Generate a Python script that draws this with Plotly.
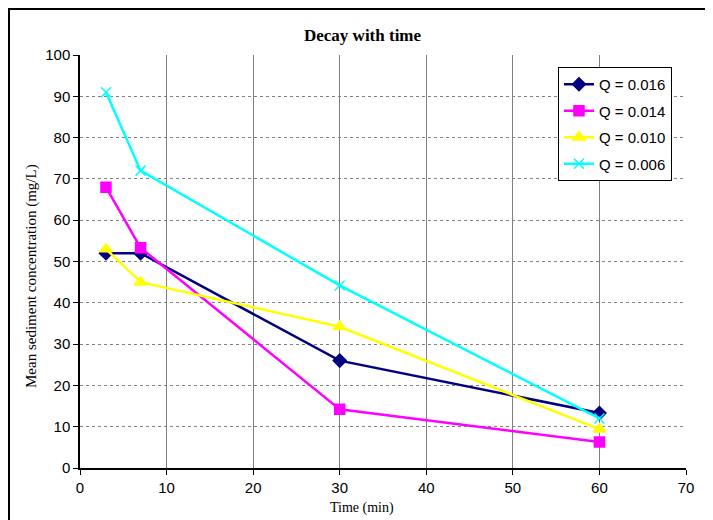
import plotly.graph_objects as go

time_min = [3, 7, 30, 60]
q016 = [52, 52, 26, 13.3]
q014 = [68, 53.3, 14.2, 6.3]
q010 = [53, 45, 34.2, 9.4]
q006 = [91, 72, 44.2, 12]

series = [
    ("Q = 0.016", q016, "#000080", "diamond", 10),
    ("Q = 0.014", q014, "#FF00FF", "square", 10),
    ("Q = 0.010", q010, "#FFFF00", "triangle-up", 11),
    ("Q = 0.006", q006, "#00FFFF", "x-thin", 10),
]

fig = go.Figure()
for i, (name, vals, col, sym, sz) in enumerate(series):
    fig.add_trace(go.Scatter(
        x=time_min, y=vals, name=name, mode="lines+markers",
        line=dict(color=col, width=2.5),
        marker=dict(symbol=sym, size=sz, color=col,
                    line=dict(color=col, width=1.5)),
        legendgroup=f"g{i}",
    ))

OFF = 8  # page body margin
W, H = 713 - OFF, 520 - OFF
L, T = 80 - OFF, 55 - OFF
R = W - (686 - OFF)
B = H - (468 - OFF)
pw, ph = W - L - R, H - T - B

def px(x):
    return (x - OFF - L) / pw

def py(y):
    return 1 - (y - OFF - T) / ph

fig.update_layout(
    width=W, height=H,
    margin=dict(l=L, r=R, t=T, b=B),
    plot_bgcolor="white", paper_bgcolor="white",
    showlegend=True,
    legend=dict(
        x=px(558), y=py(67), xanchor="left", yanchor="top",
        bgcolor="white", bordercolor="black", borderwidth=1,
        font=dict(family="Liberation Sans, Arial", size=15, color="black"),
        tracegroupgap=4, itemwidth=30,
    ),
    xaxis=dict(
        range=[0, 70], dtick=10, tick0=0,
        showgrid=True, gridcolor="#808080", gridwidth=1,
        showline=True, linecolor="black", linewidth=1.5,
        ticks="outside", ticklen=5, tickcolor="black",
        tickfont=dict(family="Liberation Sans, Arial", size=15, color="black"),
        zeroline=False, mirror=False,
    ),
    yaxis=dict(
        range=[0, 100], dtick=10, tick0=0,
        showgrid=True, gridcolor="#808080", gridwidth=1, griddash="dot",
        showline=True, linecolor="black", linewidth=1.5,
        ticks="outside", ticklen=5, tickcolor="black",
        tickfont=dict(family="Liberation Sans, Arial", size=15, color="black"),
        zeroline=False,
    ),
    annotations=[
        dict(text="<b>Decay with time</b>", xref="paper", yref="paper",
             x=px(363), y=py(36), xanchor="center", yanchor="middle",
             showarrow=False,
             font=dict(family="Liberation Serif, Times New Roman", size=17, color="black")),
        dict(text="Time (min)", xref="paper", yref="paper",
             x=px(362), y=py(508), xanchor="center", yanchor="middle",
             showarrow=False,
             font=dict(family="Liberation Serif, Times New Roman", size=14, color="black")),
        dict(text="Mean sediment concentration (mg/L)", xref="paper", yref="paper",
             x=px(31), y=py(276), xanchor="center", yanchor="middle",
             showarrow=False, textangle=-90,
             font=dict(family="Liberation Serif, Times New Roman", size=15, color="black")),
    ],
    shapes=[
        dict(type="line", xref="paper", yref="paper",
             x0=px(9), x1=px(9), y0=py(9), y1=py(530),
             line=dict(color="black", width=2)),
        dict(type="line", xref="paper", yref="paper",
             x0=px(8), x1=px(730), y0=py(9), y1=py(9),
             line=dict(color="black", width=2)),
    ],
)

fig.write_html("out.html")
